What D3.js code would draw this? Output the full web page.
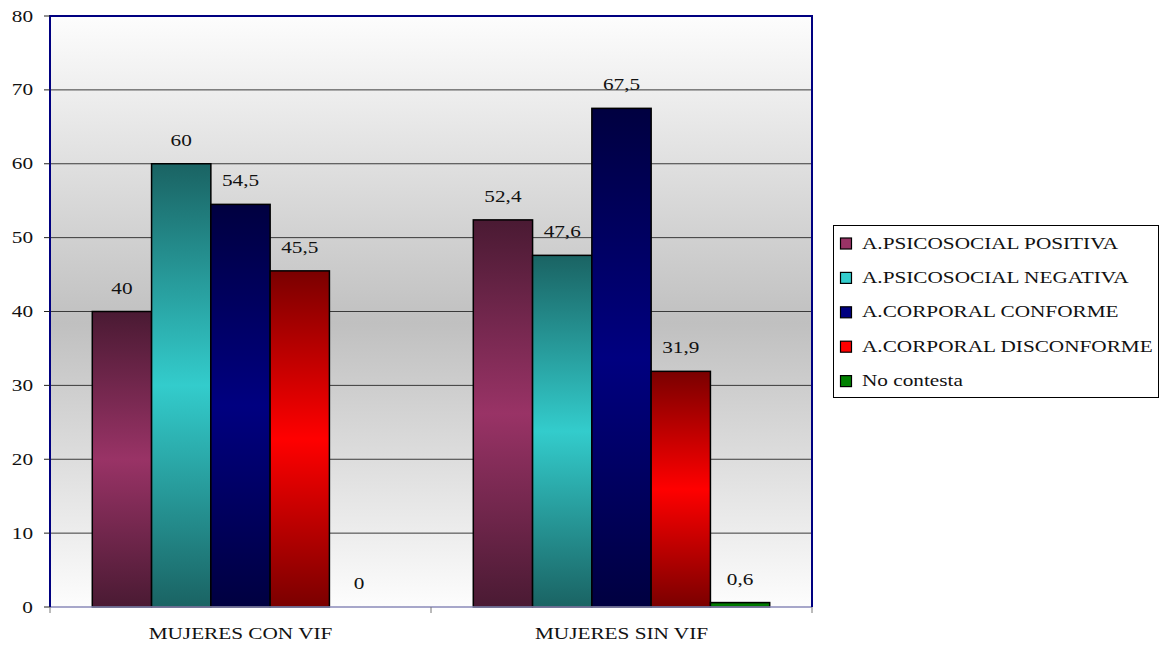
<!DOCTYPE html>
<html>
<head>
<meta charset="utf-8">
<script src="https://cdn.jsdelivr.net/npm/d3@7"></script>
<style>
  html, body { margin: 0; padding: 0; background: #ffffff; }
  svg { display: block; }
  text { font-family: "Liberation Serif", "Times New Roman", serif; font-size: 17px; fill: #111; }
</style>
</head>
<body>
<svg id="chart" width="1160" height="646"></svg>
<script>
// Data
const categories = ["MUJERES CON VIF", "MUJERES SIN VIF"];
const seriesNames = ["A.PSICOSOCIAL POSITIVA", "A.PSICOSOCIAL NEGATIVA", "A.CORPORAL CONFORME", "A.CORPORAL DISCONFORME", "No contesta"];
const conVif = [40, 60, 54.5, 45.5, 0];
const sinVif = [52.4, 47.6, 67.5, 31.9, 0.6];
const yTicks = [0, 10, 20, 30, 40, 50, 60, 70, 80];

// Palette: [edge shade, centre shade]
const seriesColors = [
  ["#4a1a33", "#993366"],
  ["#1a6363", "#33cccc"],
  ["#000040", "#000080"],
  ["#7a0000", "#ff0000"],
  ["#006400", "#008000"]
];

const values = [conVif, sinVif];
const svg = d3.select("#chart");
const plot = { left: 50, right: 812, top: 16, bottom: 607 };
const SX = 1.25; // horizontal stretch of the serif lettering

const fmt = v => String(v).replace(".", ",");

function label(g, x, y, txt, anchor) {
  return g.append("text")
    .attr("transform", `translate(${x},${y}) scale(${SX},1)`)
    .attr("text-anchor", anchor || "middle")
    .text(txt);
}

const defs = svg.append("defs");
const bg = defs.append("linearGradient").attr("id", "plotBg")
  .attr("x1", 0).attr("y1", 0).attr("x2", 0).attr("y2", 1);
bg.append("stop").attr("offset", "0%").attr("stop-color", "#fdfdfd");
bg.append("stop").attr("offset", "52%").attr("stop-color", "#c0c0c0");
bg.append("stop").attr("offset", "100%").attr("stop-color", "#fdfdfd");

seriesColors.forEach((c, i) => {
  const g = defs.append("linearGradient").attr("id", "bar" + i)
    .attr("x1", 0).attr("y1", 0).attr("x2", 0).attr("y2", 1);
  g.append("stop").attr("offset", "0%").attr("stop-color", c[0]);
  g.append("stop").attr("offset", "50%").attr("stop-color", c[1]);
  g.append("stop").attr("offset", "100%").attr("stop-color", c[0]);
});

// Scales
const y = d3.scaleLinear().domain([0, 80]).range([plot.bottom, plot.top]);
const x0 = d3.scaleBand().domain(categories).range([plot.left, plot.right]).padding(0);
const bw = x0.bandwidth();
const gap = bw * 0.111;
const x1 = d3.scaleBand().domain(d3.range(seriesNames.length)).range([gap, bw - gap]).padding(0);

// Plot background
svg.append("rect")
  .attr("x", plot.left).attr("y", plot.top)
  .attr("width", plot.right - plot.left).attr("height", plot.bottom - plot.top)
  .attr("fill", "url(#plotBg)");

// Gridlines
svg.append("g").selectAll("line").data(yTicks.filter(t => t > 0 && t < 80)).join("line")
  .attr("x1", plot.left).attr("x2", plot.right)
  .attr("y1", d => y(d)).attr("y2", d => y(d))
  .attr("stroke", "#3a3a3a").attr("stroke-width", 1);

// Bars
categories.forEach((cat, ci) => {
  const g = svg.append("g").attr("transform", `translate(${x0(cat)},0)`);
  g.selectAll("rect").data(values[ci].map((v, si) => ({ v, si }))).join("rect")
    .filter(d => d.v > 0)
    .attr("x", d => x1(d.si))
    .attr("y", d => y(d.v))
    .attr("width", x1.bandwidth())
    .attr("height", d => y(0) - y(d.v))
    .attr("fill", d => `url(#bar${d.si})`)
    .attr("stroke", "#000").attr("stroke-width", 1.5);
  values[ci].forEach((v, si) => {
    label(g, x1(si) + x1.bandwidth() / 2, y(v) - 18, fmt(v));
  });
});

// Axes frame
svg.append("line").attr("x1", plot.left).attr("x2", plot.right)
  .attr("y1", plot.bottom).attr("y2", plot.bottom)
  .attr("stroke", "#8a8ab8").attr("stroke-width", 1.5);
svg.append("path")
  .attr("d", `M${plot.left},${plot.bottom}V${plot.top}H${plot.right}V${plot.bottom}`)
  .attr("fill", "none").attr("stroke", "#000080").attr("stroke-width", 2);

// Y axis ticks and labels
const yAxis = svg.append("g");
yTicks.forEach(t => {
  yAxis.append("line").attr("x1", plot.left - 6).attr("x2", plot.left)
    .attr("y1", y(t)).attr("y2", y(t)).attr("stroke", "#222").attr("stroke-width", 1);
  label(yAxis, 33, y(t) + 5.6, String(t), "end");
});

// X axis ticks and labels
const xAxis = svg.append("g");
[plot.left].concat(categories.map(c => x0(c) + bw)).forEach(px => {
  xAxis.append("line").attr("x1", px).attr("x2", px)
    .attr("y1", plot.bottom).attr("y2", plot.bottom + 6)
    .attr("stroke", "#777").attr("stroke-width", 1);
});
categories.forEach(c => label(xAxis, x0(c) + bw / 2, 639, c));

// Legend
const lg = svg.append("g");
lg.append("rect").attr("x", 833.5).attr("y", 225.5).attr("width", 325).attr("height", 172)
  .attr("fill", "#fff").attr("stroke", "#000").attr("stroke-width", 1);
seriesNames.forEach((name, i) => {
  const cy = 243 + i * 34.4;
  lg.append("rect").attr("x", 840.5).attr("y", cy - 5).attr("width", 11).attr("height", 11)
    .attr("fill", seriesColors[i][1]).attr("stroke", "#000").attr("stroke-width", 1.2);
  label(lg, 862, cy + 5.6, name, "start");
});
</script>
</body>
</html>
